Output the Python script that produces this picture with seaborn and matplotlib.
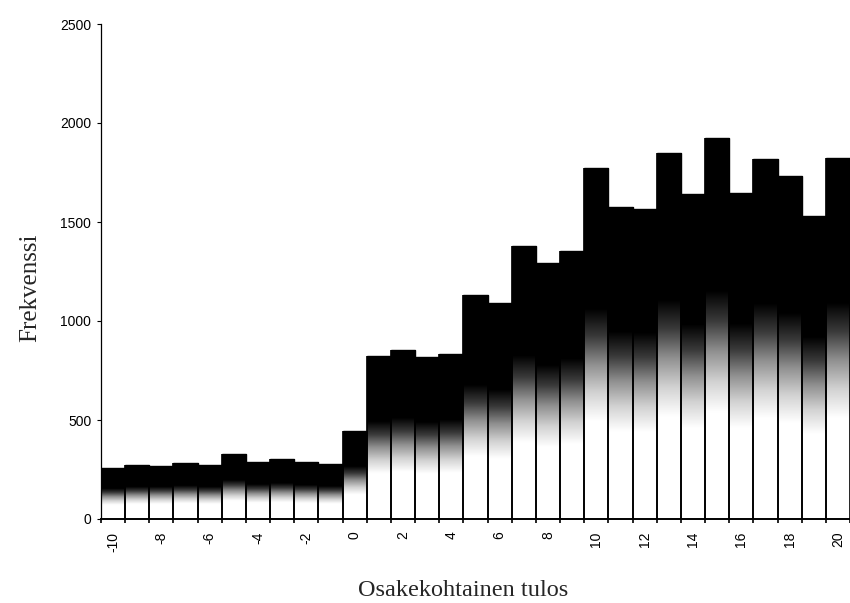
import numpy as np
import pandas as pd
import matplotlib
matplotlib.use("Agg")
import matplotlib.pyplot as plt
from matplotlib.colors import LinearSegmentedColormap
import seaborn as sns

# ── data ─────────────────────────────────────────────────────────────────────
eps_values = list(range(-10, 21))
frequencies = [257, 272, 269, 282, 272, 328, 289, 301, 286, 277,
               444, 823, 852, 818, 835, 1129, 1090, 1378, 1295, 1352,
               1771, 1578, 1566, 1846, 1640, 1924, 1645, 1818, 1734, 1531,
               1823]
tick_values = list(range(-10, 21, 2))
y_ticks = [0, 500, 1000, 1500, 2000, 2500]

df = pd.DataFrame({"tulos": [str(v) for v in eps_values], "freq": frequencies})

sns.set_theme(style="ticks")
plt.rcParams["font.family"] = ["Liberation Sans", "DejaVu Sans"]
serif = ["Liberation Serif", "DejaVu Serif"]

fig = plt.figure(figsize=(8.5, 6.03), dpi=100)
ax = fig.add_axes([101 / 850, (603 - 519) / 603, 749 / 850, 495 / 603])

sns.barplot(data=df, x="tulos", y="freq", order=df["tulos"], color="black",
            width=1.0, edgecolor="black", linewidth=1.0, saturation=1, ax=ax)

# white-to-black shading inside each bar, like the scanned original
shade = LinearSegmentedColormap.from_list(
    "shade",
    [(0.0, "#ffffff"), (0.28, "#ffffff"), (0.36, "#d2d2d2"), (0.44, "#909090"),
     (0.52, "#3a3a3a"), (0.60, "#000000"), (1.0, "#000000")])
grad = np.linspace(0, 1, 256).reshape(-1, 1)
for p in ax.patches:
    x0, w, h = p.get_x(), p.get_width(), p.get_height()
    im = ax.imshow(grad, cmap=shade, origin="lower", aspect="auto",
                   extent=(x0, x0 + w, 0, h), zorder=p.get_zorder() + 0.1,
                   interpolation="bilinear")
    im.set_clip_path(p)
    ax.vlines([x0, x0 + w], 0, h, color="black", lw=1.2,
              zorder=p.get_zorder() + 0.2)

ax.set_xlim(-0.5, 30.07)
ax.set_ylim(0, 2500)
ax.set_yticks(y_ticks)
ax.set_yticklabels([str(v) for v in y_ticks], fontsize=10)
ax.tick_params(axis="y", length=3, width=0.8, pad=4, colors="black")

pos = [eps_values.index(v) for v in tick_values]
ax.set_xticks(pos)
ax.set_xticklabels([str(v) for v in tick_values], rotation=90, fontsize=10)
ax.tick_params(axis="x", length=0, pad=9, colors="black")
ax.set_xticks(np.arange(-0.5, 31, 1), minor=True)
ax.tick_params(axis="x", which="minor", length=3, width=1.2, color="black")

for s in ["top", "right"]:
    ax.spines[s].set_visible(False)
ax.spines["left"].set_linewidth(0.9)
ax.spines["bottom"].set_linewidth(1.4)
ax.spines["left"].set_color("black")
ax.spines["bottom"].set_color("black")

ax.set_xlabel("")
ax.set_ylabel("")
fig.text(36 / 850, 1 - 288 / 603, "Frekvenssi", fontsize=18, family=serif,
         rotation=90, rotation_mode="anchor", ha="center", va="baseline")
fig.text(463 / 850, 7 / 603, "Osakekohtainen tulos", fontsize=17.5, family=serif,
         ha="center", va="baseline")

fig.savefig("out.png", dpi=100)
